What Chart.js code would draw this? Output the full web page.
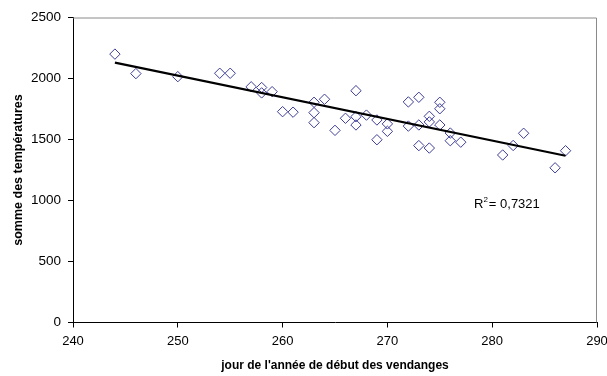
<!DOCTYPE html>
<html>
<head>
<meta charset="utf-8">
<script src="https://cdn.jsdelivr.net/npm/chart.js@4/dist/chart.umd.min.js"></script>
<style>
  html, body { margin: 0; padding: 0; background: #fff; }
  #wrap { width: 607px; height: 376px; }
</style>
</head>
<body>
<div id="wrap"><canvas id="chart"></canvas></div>
<script>
// day of year the harvest started vs. temperature sum
const days  = [244, 246, 250, 254, 255, 257, 258, 258, 259, 260, 261, 263, 263, 263, 264,
               265, 266, 267, 267, 267, 268, 269, 269, 270, 270, 272, 272, 273, 273, 273,
               274, 274, 274, 275, 275, 275, 276, 276, 277, 281, 282, 283, 286, 287];
const temps = [2200, 2040, 2015, 2043, 2043, 1932, 1926, 1882, 1892, 1728, 1724, 1805, 1720, 1638, 1830,
               1575, 1674, 1900, 1687, 1619, 1700, 1660, 1498, 1628, 1567, 1808, 1610, 1846, 1619, 1450,
               1690, 1644, 1430, 1805, 1752, 1619, 1553, 1490, 1478, 1373, 1451, 1551, 1268, 1408];

// linear trendline ends, as drawn in the picture
const trendX = [244, 287];
const trendY = [2130, 1367];

const xTicks = [240, 250, 260, 270, 280, 290];
const yTicks = [0, 500, 1000, 1500, 2000, 2500];
const rSquared = '0,7321';

const FONT = '"Liberation Sans", Arial, sans-serif';

// gray frame on top/right of the plot + the R² note
const framePlugin = {
  id: 'frame',
  afterDraw(chart) {
    const { ctx, chartArea: a } = chart;
    ctx.save();
    ctx.strokeStyle = '#8a8a8a';
    ctx.lineWidth = 1;
    ctx.beginPath();
    ctx.moveTo(a.left, a.top + 0.5);
    ctx.lineTo(a.right - 0.5, a.top + 0.5);
    ctx.lineTo(a.right - 0.5, a.bottom);
    ctx.stroke();

    // R² label, bottom right of the points
    const x = a.left + 401, y = a.top + 187;
    ctx.fillStyle = '#000';
    ctx.textBaseline = 'middle';
    ctx.font = '13px ' + FONT;
    ctx.fillText('R', x, y);
    let w = ctx.measureText('R').width;
    ctx.font = '8px ' + FONT;
    ctx.fillText('2', x + w, y - 5);
    w += ctx.measureText('2').width;
    ctx.font = '13px ' + FONT;
    ctx.fillText('= ' + rSquared, x + w + 1, y);
    ctx.restore();
  }
};

new Chart(document.getElementById('chart'), {
  type: 'scatter',
  data: {
    datasets: [
      {
        type: 'line',
        label: 'tendance',
        data: trendX.map((x, i) => ({ x, y: trendY[i] })),
        borderColor: '#000',
        borderWidth: 2.2,
        pointRadius: 0,
        fill: false
      },
      {
        label: 'années',
        data: days.map((x, i) => ({ x, y: temps[i] })),
        pointStyle: 'rectRot',
        pointRadius: 5.2,
        borderWidth: 1,
        borderColor: '#3d3d96',
        backgroundColor: 'rgba(255,255,255,0)'
      }
    ]
  },
  options: {
    responsive: true,
    maintainAspectRatio: false,
    animation: false,
    layout: { padding: { top: 17.5, right: 10, bottom: 0, left: 0 } },
    plugins: {
      legend: { display: false },
      tooltip: { enabled: false }
    },
    scales: {
      x: {
        type: 'linear',
        min: 240,
        max: 290,
        afterBuildTicks(scale) { scale.ticks = xTicks.map(v => ({ value: v })); },
        afterFit(scale) { scale.height = 53.5; scale.paddingLeft = 0; scale.paddingRight = 0; },
        grid: { drawOnChartArea: false, drawTicks: true, tickLength: 5, color: '#000' },
        border: { color: '#000', width: 1 },
        ticks: { color: '#000', padding: 6, maxRotation: 0, font: { family: FONT, size: 13 },
                 callback: v => String(v) },
        title: {
          display: true,
          text: "jour de l'année de début des vendanges",
          color: '#000',
          font: { family: FONT, size: 12, weight: 'bold' },
          padding: { top: 0, bottom: 3.5 }
        }
      },
      y: {
        type: 'linear',
        min: 0,
        max: 2500,
        afterBuildTicks(scale) { scale.ticks = yTicks.map(v => ({ value: v })); },
        afterFit(scale) { scale.width = 73; scale.paddingTop = 0; scale.paddingBottom = 0; },
        grid: { drawOnChartArea: false, drawTicks: true, tickLength: 5, color: '#000' },
        border: { color: '#000', width: 1 },
        ticks: { color: '#000', padding: 7, font: { family: FONT, size: 13.5 },
                 callback: v => String(v) },
        title: {
          display: true,
          text: 'somme des températures',
          color: '#000',
          font: { family: FONT, size: 12.5, weight: 'bold' },
          padding: { top: 11, bottom: 0 }
        }
      }
    }
  },
  plugins: [framePlugin]
});
</script>
</body>
</html>
